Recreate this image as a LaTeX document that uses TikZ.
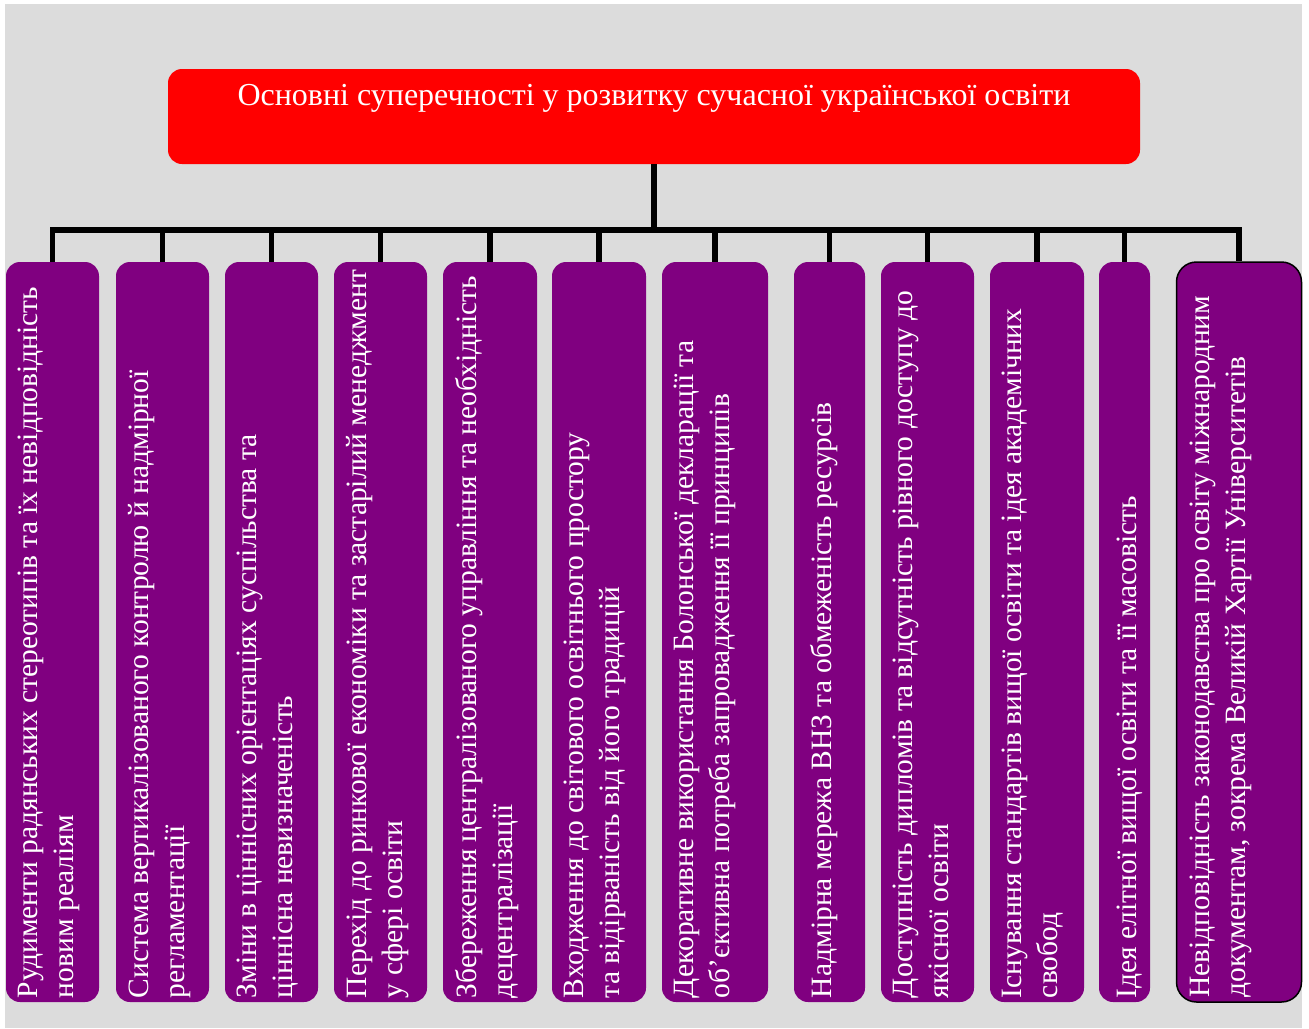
\documentclass[tikz,border=0pt]{standalone}
\usepackage{fontspec}
\setmainfont{Liberation Serif}

\definecolor{bggray}{HTML}{DCDCDC}
\definecolor{boxpurple}{HTML}{800080}
\newcommand\itemfont{\fontsize{29.5}{36}\selectfont}
\newcommand\headfont{\fontsize{32}{38}\selectfont}

\tikzset{
  headbox/.style={fill=red, rounded corners=14pt, text=white, font=\headfont, inner sep=0pt,
    minimum width=972pt, text height=36pt, text depth=59pt},
  itembox/.style={fill=boxpurple, rounded corners=14pt, inner sep=0pt, minimum height=740pt},
  itemtext/.style={rotate=90, anchor=north west, align=left, text=white, font=\itemfont,
    inner sep=0pt, execute at begin node=\strut},
  link/.style={line width=5.5pt}
}

\begin{document}
\begin{tikzpicture}[x=1pt, y=-1pt]
\useasboundingbox (0,0) rectangle (1309,1028);
\fill[bggray] (5,4) rectangle (1302,1028);

\node[headbox] (head) at (654,116.5) {Основні суперечності у розвитку сучасної української освіти};

\node[itembox, minimum width=93pt] (b1) at (52.5,632) {};
\node[itembox, minimum width=93pt] (b2) at (162.5,632) {};
\node[itembox, minimum width=93pt] (b3) at (271.5,632) {};
\node[itembox, minimum width=93pt] (b4) at (380.5,632) {};
\node[itembox, minimum width=94pt] (b5) at (490,632) {};
\node[itembox, minimum width=94pt] (b6) at (599,632) {};
\node[itembox, minimum width=106pt] (b7) at (715,632) {};
\node[itembox, minimum width=71pt] (b8) at (829.5,632) {};
\node[itembox, minimum width=93pt] (b9) at (927.5,632) {};
\node[itembox, minimum width=94pt] (b10) at (1037,632) {};
\node[itembox, minimum width=51pt] (b11) at (1124.5,632) {};
\node[itembox, minimum width=125pt, draw=black, line width=1.5pt, rounded corners=20pt] (b12) at (1239,632) {};

\coordinate (bar) at (654,230);
\draw[link] (head.south) -- (bar);
\draw[link] (b1.north) |- (bar) -| (b12.north);
\draw[link] (b2.north) -- (b2.north |- bar);
\draw[link] (b3.north) -- (b3.north |- bar);
\draw[link] (b4.north) -- (b4.north |- bar);
\draw[link] (b5.north) -- (b5.north |- bar);
\draw[link] (b6.north) -- (b6.north |- bar);
\draw[link] (b7.north) -- (b7.north |- bar);
\draw[link] (b8.north) -- (b8.north |- bar);
\draw[link] (b9.north) -- (b9.north |- bar);
\draw[link] (b10.north) -- (b10.north |- bar);
\draw[link] (b11.north) -- (b11.north |- bar);

\node[itemtext] (t1) at ([shift={(12,-4)}]b1.south west) {Рудименти радянських стереотипів та їх невідповідність\\новим реаліям};
\node[itemtext] (t2) at ([shift={(12,-4)}]b2.south west) {Система вертикалізованого контролю й надмірної\\регламентації};
\node[itemtext] (t3) at ([shift={(12,-4)}]b3.south west) {Зміни в ціннісних орієнтаціях суспільства та\\ціннісна невизначеність};
\node[itemtext] (t4) at ([shift={(12,-4)}]b4.south west) {Перехід до ринкової економіки та застарілий менеджмент\\у сфері освіти};
\node[itemtext] (t5) at ([shift={(12,-4)}]b5.south west) {Збереження централізованого управління та необхідність\\децентралізації};
\node[itemtext] (t6) at ([shift={(12,-4)}]b6.south west) {Входження до світового освітнього простору\\та відірваність від його традицій};
\node[itemtext] (t7) at ([shift={(12,-4)}]b7.south west) {Декоративне використання Болонської декларації та\\об’єктивна потреба запровадження її принципів};
\node[itemtext] (t8) at ([shift={(12,-4)}]b8.south west) {Надмірна мережа ВНЗ та обмеженість ресурсів};
\node[itemtext] (t9) at ([shift={(12,-4)}]b9.south west) {Доступність дипломів та відсутність рівного доступу до\\якісної освіти};
\node[itemtext] (t10) at ([shift={(12,-4)}]b10.south west) {Існування стандартів вищої освіти та ідея академічних\\свобод};
\node[itemtext] (t11) at ([shift={(12,-4)}]b11.south west) {Ідея елітної вищої освіти та її масовість};
\node[itemtext] (t12) at ([shift={(14,-5)}]b12.south west) {Невідповідність законодавства про освіту міжнародним\\документам, зокрема Великій Хартії Університетів};
\end{tikzpicture}
\end{document}
